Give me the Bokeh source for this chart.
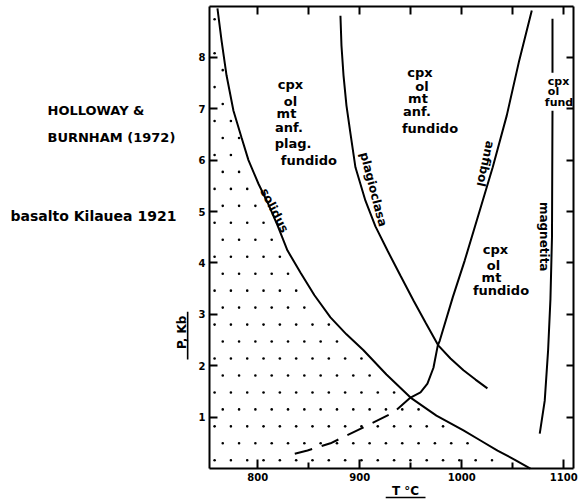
import numpy as np
from bokeh.plotting import figure
from bokeh.models import Range1d, LinearAxis, FixedTicker
from bokeh.core.properties import value
from bokeh.embed import file_html
from bokeh.resources import INLINE

# ---------------- data (T in °C, P in kb) ----------------
solidus_T = [760.5, 764.5, 769.4, 776.2, 784.1, 790.9, 800.7, 810.5, 819.4, 829.2,
             842.0, 855.6, 871.3, 887.0, 903.7, 926.2, 949.8, 975.2, 1001.7, 1018.4,
             1035.1, 1051.7, 1067.4]
solidus_P = [8.95, 8.33, 7.65, 6.96, 6.44, 6.00, 5.54, 5.14, 4.73, 4.24,
             3.81, 3.37, 2.94, 2.61, 2.30, 1.83, 1.38, 1.03, 0.74, 0.545,
             0.35, 0.175, 0.0]

plag_T = [881.1, 882.1, 884.1, 887.0, 890.9, 895.8, 905.6, 915.4, 927.2, 940.0,
          952.7, 964.5, 977.2, 989.0, 1001.7, 1013.5, 1025.2]
plag_P = [8.81, 8.23, 7.65, 7.06, 6.52, 5.86, 5.21, 4.71, 4.24, 3.75,
          3.27, 2.84, 2.39, 2.14, 1.91, 1.73, 1.56]

anf_T = [1068.7, 1056.4, 1044.2, 1030.4, 1017.7, 1003.0, 991.2, 978.5, 976.5,
         972.3, 966.4, 959.6, 949.8]
anf_P = [8.91, 7.94, 6.87, 5.86, 5.02, 4.05, 3.33, 2.49, 2.39,
         1.96, 1.65, 1.48, 1.38]

anf_dash_T = [949.8, 933.1, 903.7, 871.3, 848.8, 829.2]
anf_dash_P = [1.38, 1.09, 0.80, 0.49, 0.35, 0.25]

mag_T = [1089, 1089, float("nan"), 1089, 1088.5, 1087, 1084.7, 1081.4, 1076.5]
mag_P = [8.75, 7.70, float("nan"), 6.96, 4.5, 3.3, 2.3, 1.32, 0.68]

x_ticks = [800, 900, 1000, 1100]
x_minor_ticks = [850, 950, 1050]
x_top_ticks = [800, 850, 900, 950, 1000, 1050, 1100]
y_ticks = [1, 2, 3, 4, 5, 6, 7, 8]

# diagram box (data units)
T_MIN, T_MAX = 752.7, 1109.6
P_MIN, P_TOP = 0.0, 8.99

FONT = "DejaVu Sans"

# canvas = whole window; axes are pinned at the diagram box
p = figure(width=578, height=499, output_backend="svg", toolbar_location=None,
           x_range=Range1d(547.8, 1114.5), y_range=Range1d(-0.603, 9.105),
           min_border_left=0, min_border_right=0, min_border_top=0,
           min_border_bottom=0, x_axis_type=None, y_axis_type=None)
p.xgrid.visible = False
p.ygrid.visible = False
p.outline_line_color = None
p.background_fill_color = "white"
p.border_fill_color = "white"


def style_axis(ax, labels=True, tick_in=8, minor_in=5):
    ax.axis_line_width = 2
    ax.axis_line_color = "black"
    ax.major_tick_in = tick_in
    ax.major_tick_out = 0
    ax.minor_tick_in = minor_in
    ax.minor_tick_out = 0
    ax.major_tick_line_width = 2
    ax.minor_tick_line_width = 2
    if labels:
        ax.major_label_text_font = FONT
        ax.major_label_text_font_style = "bold"
        ax.major_label_text_font_size = "10px"
        ax.major_label_text_color = "black"
        ax.major_label_standoff = 4
    else:
        ax.major_label_text_color = None
        ax.major_label_standoff = 0


xb = LinearAxis(ticker=FixedTicker(ticks=x_ticks, minor_ticks=x_minor_ticks),
                fixed_location=P_MIN, bounds=(T_MIN, T_MAX))
style_axis(xb, labels=True, tick_in=9, minor_in=6)
p.add_layout(xb, "below")

yl = LinearAxis(ticker=FixedTicker(ticks=y_ticks), fixed_location=T_MIN,
                bounds=(P_MIN, P_TOP))
style_axis(yl, labels=True, tick_in=8)
p.add_layout(yl, "left")

xt = LinearAxis(ticker=FixedTicker(ticks=x_top_ticks), fixed_location=P_TOP,
                bounds=(T_MIN, T_MAX))
style_axis(xt, labels=False, tick_in=8)
p.add_layout(xt, "above")

yr = LinearAxis(ticker=FixedTicker(ticks=y_ticks), fixed_location=T_MAX,
                bounds=(P_MIN, P_TOP))
style_axis(yr, labels=False, tick_in=7)
p.add_layout(yr, "right")

# stippled sub-solidus field: staggered dot screen clipped by the solidus
dot_T, dot_P = [], []
for i, pr in enumerate(np.arange(0.16, P_TOP, 0.33)):
    ts = np.arange(T_MIN + 5 + (8 if i % 2 else 0), T_MAX, 16.0)
    lim = np.interp(ts, solidus_T, solidus_P, left=P_TOP + 1)
    keep = pr < lim - 0.12
    dot_T.extend(ts[keep].tolist())
    dot_P.extend([float(pr)] * int(keep.sum()))
p.scatter(dot_T, dot_P, size=2.6, color="black", line_color=None)

# curves
LW = 2
p.line(solidus_T, solidus_P, line_color="black", line_width=LW)
p.line(plag_T, plag_P, line_color="black", line_width=LW)
p.line(anf_T, anf_P, line_color="black", line_width=LW)
p.line(anf_dash_T, anf_dash_P, line_color="black", line_width=LW, line_dash="18 10")
p.line(mag_T, mag_P, line_color="black", line_width=LW)

# curve labels
curve_lbl = dict(text_font=value(FONT), text_font_style="bold", text_font_size="12px",
                 text_color="black", text_align="center", text_baseline="middle")
p.text(x=[816.4], y=[5.02], text=["solidus"], angle=[-63], angle_units="deg", **curve_lbl)
p.text(x=[913.5], y=[5.43], text=["plagioclasa"], angle=[-75.5], angle_units="deg", **curve_lbl)
p.text(x=[1023.3], y=[5.93], text=["anfibol"], angle=[-102.3], angle_units="deg", **curve_lbl)
p.text(x=[1080.2], y=[4.51], text=["magnetita"], angle=[-90], angle_units="deg", **curve_lbl)

# field labels
field = dict(text_font=value(FONT), text_font_style="bold", text_font_size="13px",
             text_color="black", text_align="center", text_baseline="middle")
p.text(x=[832.1, 832.1, 828.2, 830.6, 834.6, 850.2],
       y=[7.47, 7.14, 6.91, 6.63, 6.32, 5.99],
       text=["cpx", "ol", "mt", "anf.", "plag.", "fundido"], **field)
p.text(x=[959.1, 961.0, 957.1, 956.1, 968.9],
       y=[7.70, 7.43, 7.20, 6.95, 6.61],
       text=["cpx", "ol", "mt", "anf.", "fundido"], **field)
p.text(x=[1033.1, 1031.1, 1029.2, 1038.5],
       y=[4.26, 3.95, 3.72, 3.46],
       text=["cpx", "ol", "mt", "fundido"], **field)
small = dict(field)
small["text_font_size"] = "11px"
p.text(x=[1094.9, 1090.0, 1095.4], y=[7.53, 7.33, 7.12],
       text=["cpx", "ol", "fund"], **small)

# texts beside the diagram
side = dict(text_font=value(FONT), text_font_style="bold", text_color="black",
            text_baseline="middle")
p.text(x=[593.9, 593.9], y=[6.96, 6.44], text=["HOLLOWAY &", "BURNHAM (1972)"],
       text_align="left", text_font_size="13px", **side)
p.text(x=[557.6], y=[4.92], text=["basalto Kilauea 1921"],
       text_align="left", text_font_size="14px", **side)
p.text(x=[726.0], y=[2.65], text=["P, Kb"], angle=[90], angle_units="deg",
       text_align="center", text_font_size="12px", **side)
p.text(x=[944.9], y=[-0.44], text=["T °C"],
       text_align="center", text_font_size="12px", **side)
# underlines of the axis titles
p.line([731.3, 731.3], [2.12, 3.05], line_color="black", line_width=1.6)
p.line([925.5, 964.5], [-0.565, -0.565], line_color="black", line_width=1.6)

open("out.html", "w").write(file_html(p, INLINE))
